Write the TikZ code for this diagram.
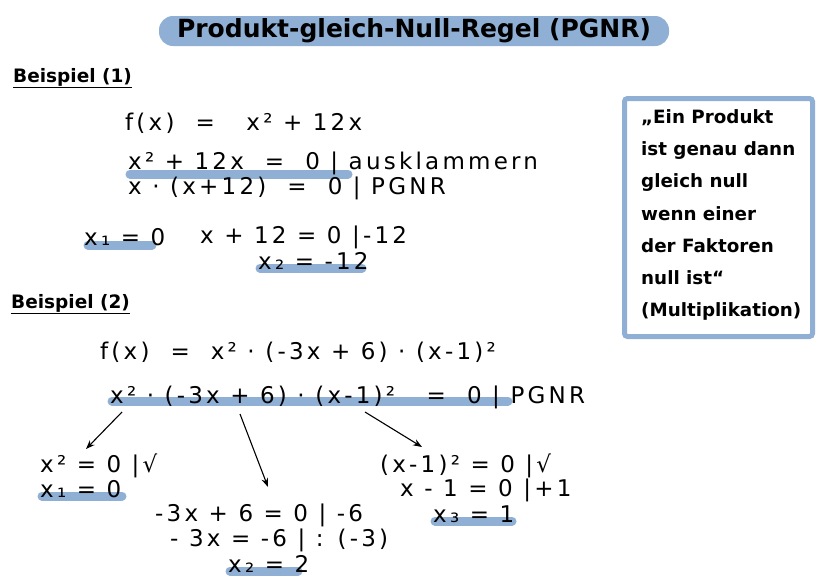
\documentclass[tikz,border=0pt]{standalone}
\usepackage{fontspec}
\usetikzlibrary{arrows.meta}
\setmainfont{DejaVu Sans}
\newfontfamily\hand[LetterSpace=14]{DejaVu Sans}
\begin{document}
\begin{tikzpicture}[x=1pt,y=-1pt,
  hl/.style={line width=9pt,line cap=round,draw=hlblue},
  eq/.style={anchor=west,font=\hand\fontsize{23}{26}\selectfont,inner sep=0pt},
  head/.style={anchor=west,font=\bfseries\fontsize{18.5}{22}\selectfont,inner sep=1pt},
  arr/.style={-{Stealth[length=9pt]},line width=1.1pt}]
\definecolor{hlblue}{HTML}{8FB0D4}
\useasboundingbox (0,0) rectangle (828,584);
% title
\node[fill=hlblue,rounded corners=14pt,minimum width=510pt,minimum height=30pt,font=\bfseries\fontsize{25}{28}\selectfont,inner sep=0pt] (title) at (414,31) {Produkt-gleich-Null-Regel (PGNR)};
% box
\node[draw=hlblue,line width=5pt,rounded corners=3pt,minimum width=188pt,minimum height=238pt,anchor=north west] (box) at (622,96) {};
\node[anchor=north west,align=left,font=\bfseries\fontsize{18.3}{32.3}\selectfont,inner sep=0pt] (boxt) at (641,109) {„Ein Produkt\\ist genau dann\\gleich null\\wenn einer\\der Faktoren\\null ist“\\(Multiplikation)};
% highlights
\draw[hl] (130,174) -- (348,174);
\draw[hl] (88,245) -- (152,245);
\draw[hl] (260,268) -- (362,268);
\draw[hl] (112,401) -- (508,401);
\draw[hl] (42,496) -- (122,496);
\draw[hl] (435,521) -- (512,521);
\draw[hl] (230,571) -- (298,571);
% Beispiel 1
\node[head] (b1) at (12,78) {\underline{Beispiel (1)}};
\node[eq] (e1) at (125,123) {f(x) \ = \ \ x² + 12x};
\node[eq] (e2) at (128,163) {x² + 12x \ = \ 0 | ausklammern};
\node[eq] (e3) at (128,188) {x · (x+12) \ = \ 0 | PGNR};
\node[eq] (e4) at (84,237) {x₁ = 0};
\node[eq] (e5) at (200,237) {x + 12 = 0 |-12};
\node[eq] (e6) at (258,261) {x₂ = -12};
% Beispiel 2
\node[head] (b2) at (10,304) {\underline{Beispiel (2)}};
\node[eq] (f1) at (100,352) {f(x) \ = \ x² · (-3x + 6) · (x-1)²};
\node[eq] (f2) at (110,397) {x² · (-3x + 6) · (x-1)² \ \ = \ 0 | PGNR};
\coordinate (a1) at (122,412); \coordinate (a2) at (240,414); \coordinate (a3) at (365,412);
\node[eq] (g1) at (40,466) {x² = 0 |√};
\node[eq] (g2) at (40,489) {x₁ = 0};
\node[eq] (h1) at (380,466) {(x-1)² = 0 |√};
\node[eq] (h2) at (400,490) {x - 1 = 0 |+1};
\node[eq] (h3) at (433,514) {x₃ = 1};
\node[eq] (k1) at (155,515) {-3x + 6 = 0 | -6};
\node[eq] (k2) at (170,540) {- 3x = -6 | : (-3)};
\node[eq] (k3) at (228,564) {x₂ = 2};
\draw[arr] (a1) -- (86,449);
\draw[arr] (a2) -- (268,487);
\draw[arr] (a3) -- (422,447);
\end{tikzpicture}
\end{document}
